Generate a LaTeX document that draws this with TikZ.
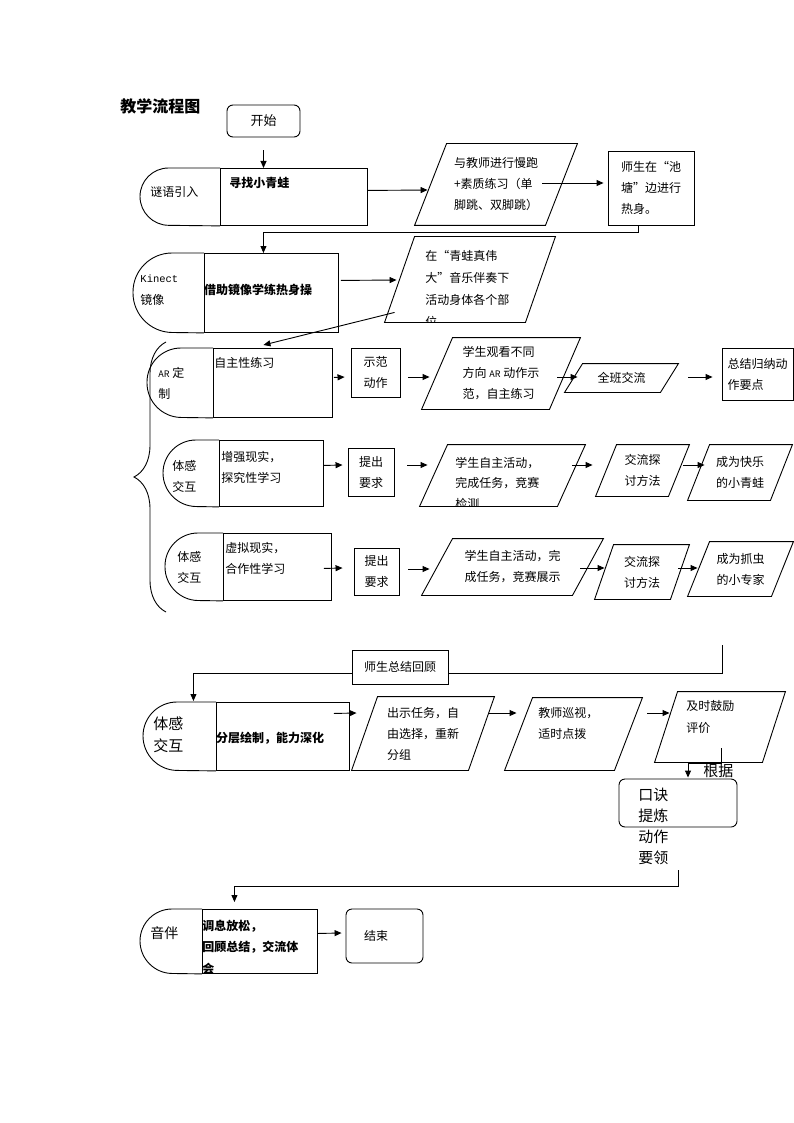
\documentclass[tikz,border=0pt]{standalone}
\usepackage{fontspec}
\setmainfont{Noto Sans CJK SC}
\setmonofont{Liberation Mono}
\usetikzlibrary{arrows.meta,decorations.pathreplacing}

\begin{document}
\begin{tikzpicture}[x=1pt,y=-1pt,line width=0.9pt,>={Triangle[length=7pt,width=6pt]},
  every node/.style={inner sep=0pt,align=left,font=\fontsize{12}{21}\selectfont},
  box/.style={draw,rectangle},
  rbox/.style={draw,rectangle,rounded corners=6pt},
  body/.style={draw,rectangle,anchor=north west},
  para/.style={append after command={\pgfextra{\draw ([xshift=#1]\tikzlastnode.north west) -- (\tikzlastnode.north east) -- ([xshift=-#1]\tikzlastnode.south east) -- (\tikzlastnode.south west) -- cycle;}}},
  bold/.style={font=\fontsize{12}{21.5}\selectfont\bfseries},
  big/.style={font=\fontsize{15}{21}\selectfont}]
            \useasboundingbox (0,0) rectangle (794,1123);

            % Define the title and the start
            \node[anchor=west,font=\fontsize{16}{16}\selectfont\bfseries] (title) at (120,106) {教学流程图};
            \node[rbox,minimum width=73,minimum height=32,font=\fontsize{13}{13}\selectfont] (start) at (263.5,121) {开始};

            % Define the first row (riddle)
            \node[body,minimum width=147,minimum height=57] (b1) at (220,168) {};
            \draw[rounded corners=28.5pt] (b1.north west) -- ++(-80,0) -- ++(0,57) -- (b1.south west);
            \node[anchor=west] (b1l) at (150,192) {谜语引入};
            \node[bold,anchor=west] (b1t) at (229,183) {寻找小青蛙};
            \node[para=32,minimum width=162,minimum height=81] (p1) at (496,184.5) {与教师进行慢跑\\+素质练习（单\\脚跳、双脚跳）};
            \node[box,minimum width=86,minimum height=74] (s1) at (651,188) {师生在“池\\塘”边进行\\热身。};

            % Define the second row (Kinect)
            \node[body,minimum width=134,minimum height=79] (b2) at (204,253) {};
            \draw[rounded corners=39pt] (b2.north west) -- ++(-71,0) -- ++(0,79) -- (b2.south west);
            \node[anchor=west,font=\fontsize{10.5}{10.5}\ttfamily] (b2k) at (140,279) {Kinect};
            \node[anchor=west] (b2l) at (140,300) {镜像};
            \node[bold] (b2t) at (258,290) {借助镜像学练热身操};
            \node[para=30,minimum width=170,minimum height=85] (p2) at (470,279.5) {};
            \begin{scope}
                \clip (p2.north west) rectangle (p2.south east);
                \node[anchor=north west,font=\fontsize{12}{22}\selectfont] (p2t) at (425,249.5) {在“青蛙真伟\\大”音乐伴奏下\\活动身体各个部\\位};
            \end{scope}

            \draw[->] ([shift={(0,13)}]start.south) -- (start.south |- b1.north);
            \draw[->] ([shift={(0,-6.5)}]b1.east) -- ([shift={(13,5.5)}]p1.west);
            \draw[->] ([shift={(-35,-1.5)}]p1.east) -- ([shift={(-4,-5)}]s1.west);
            \draw[->] ([shift={(-13,0)}]s1.south) -- ++(0,7) -| ([shift={(-8,0)}]b2.north);
            \draw[->] ([shift={(2,-12.5)}]b2.east) -- ([shift={(12,0.5)}]p2.west);

            % Define the third row (AR)
            \node[body,minimum width=119,minimum height=69] (b3) at (213,348) {};
            \draw[rounded corners=34pt] (b3.north west) -- ++(-66,0) -- ++(0,69) -- (b3.south west);
            \node[anchor=west] (b3l) at (158,383) {{\fontsize{9}{9}\selectfont AR} 定\\制};
            \node[anchor=west] (b3t) at (214,363) {自主性练习};
            \node[box,minimum width=49,minimum height=49] (demo) at (375.5,372.5) {示范\\动作};
            \node[para=31,minimum width=158,minimum height=71] (p3) at (501,373.5) {学生观看不同\\方向 {\fontsize{9}{9}\selectfont AR} 动作示\\范，自主练习};
            \node[para=18,minimum width=113,minimum height=28] (all) at (621.5,378) {全班交流};
            \node[box,minimum width=71,minimum height=52] (sum) at (757.5,374) {总结归纳动\\作要点};

            \draw[->] ([shift={(10,-10)}]p2.south west) -- ([shift={(-9.5,-3)}]b3.north);
            \draw[->] ([shift={(1,-5.5)}]b3.east) -- ([shift={(-6,4.5)}]demo.west);
            \draw[->] ([shift={(8,4.5)}]demo.east) -- ([shift={(8,3.5)}]p3.west);
            \draw[->] ([shift={(-23,3.5)}]p3.east) -- ([shift={(13,-1)}]all.west);
            \draw[->] ([shift={(10,-1)}]all.east) -- ([shift={(-9,3)}]sum.west);

            % Brace for the three rows
            \draw[decorate,decoration={brace,amplitude=32pt}] (166,612) -- (166,342);

            % Define the fourth row
            \node[body,minimum width=104,minimum height=66] (b4) at (219,440) {};
            \draw[rounded corners=33pt] (b4.north west) -- ++(-56,0) -- ++(0,66) -- (b4.south west);
            \node[anchor=west] (b4l) at (172,476.5) {体感\\交互};
            \node[anchor=west] (b4t) at (221,467.5) {增强现实，\\探究性学习};
            \node[box,minimum width=46,minimum height=48] (req1) at (371,472) {提出\\要求};
            \node[para=28,minimum width=165,minimum height=61] (p4) at (502.5,475.5) {};
            \begin{scope}
                \clip (p4.north west) rectangle (p4.south east);
                \node[anchor=north west,font=\fontsize{12}{20.5}\selectfont] (p4t) at (455,456.5) {学生自主活动，\\完成任务，竞赛\\检测};
            \end{scope}
            \node[para=21,minimum width=93,minimum height=51] (ex1) at (642.5,470.5) {交流探\\讨方法};
            \node[para=22,minimum width=104,minimum height=55] (hap) at (740,472.5) {成为快乐\\的小青蛙};

            \draw[->] ([shift={(0,-8)}]b4.east) -- ([shift={(-5,-7)}]req1.west);
            \draw[->] ([shift={(13,-7)}]req1.east) -- ([shift={(8,-10.5)}]p4.west);
            \draw[->] ([shift={(-13,-10.5)}]p4.east) -- ([shift={(-3,-5.5)}]ex1.west);
            \draw[->] ([shift={(-6,-5.5)}]ex1.east) -- ([shift={(17,-7.5)}]hap.west);

            % Define the fifth row
            \node[body,minimum width=108,minimum height=67] (b5) at (223,533) {};
            \draw[rounded corners=33pt] (b5.north west) -- ++(-58,0) -- ++(0,67) -- (b5.south west);
            \node[anchor=west] (b5l) at (177,567) {体感\\交互};
            \node[anchor=west] (b5t) at (225,558.5) {虚拟现实，\\合作性学习};
            \node[box,minimum width=45,minimum height=47] (req2) at (376.5,571.5) {提出\\要求};
            \node[para=31,minimum width=181,minimum height=56] (p5) at (512.5,567) {学生自主活动，完\\成任务，竞赛展示};
            \node[para=19,minimum width=94,minimum height=54] (ex2) at (642,572) {交流探\\讨方法};
            \node[para=22,minimum width=105,minimum height=54] (bug) at (740.5,569) {成为抓虫\\的小专家};

            \draw[->] ([shift={(-8,1.5)}]b5.east) -- ([shift={(-11,-3.5)}]req2.west);
            \draw[->] ([shift={(9,-2.5)}]req2.east) -- ([shift={(8,2)}]p5.west);
            \draw[->] ([shift={(-23,1)}]p5.east) -- ([shift={(10,-4)}]ex2.west);
            \draw[->] ([shift={(-11,-4)}]ex2.east) -- ([shift={(10,-1)}]bug.west);

            % Define the sixth row (drawing in layers)
            \coordinate (back) at (722,645);
            \node[body,minimum width=133,minimum height=68] (b6) at (216,702) {};
            \draw[->] (back) -- ++(0,28) -| ([shift={(-89.5,-1)}]b6.north);
            \node[box,fill=white,minimum width=96,minimum height=34] (rev) at (400,667) {师生总结回顾};
            \draw[rounded corners=34pt] (b6.north west) -- ++(-73,0) -- ++(0,68) -- (b6.south west);
            \node[big,anchor=west,font=\fontsize{15}{22}\selectfont] (b6l) at (153,735) {体感\\交互};
            \node[bold] (b6t) at (270,738) {分层绘制，能力深化};
            \node[para=26,minimum width=142,minimum height=73] (p6) at (423,733.5) {出示任务，自\\由选择，重新\\分组};
            \node[para=28,minimum width=137,minimum height=72] (p7) at (573.5,734) {};
            \node[anchor=west] (p7t) at (538,723.5) {教师巡视，\\适时点拨};
            \node[para=23,minimum width=130,minimum height=70] (p8) at (720,727) {};
            \node[anchor=west,font=\fontsize{12}{22}\selectfont] (p8t) at (686,717) {及时鼓励\\评价};
            \node[rbox,minimum width=118,minimum height=48] (recipe) at (678,803) {};
            \node[big,anchor=north west] (recipet) at (638,787.5) {口诀\\提炼\\动作\\要领};
            \node[big,anchor=west] (basis) at (703,771) {根据};

            \draw[->] ([shift={(-16,-23)}]b6.east) -- ([shift={(5,-20.5)}]p6.west);
            \draw[->] ([shift={(-6,-20.5)}]p6.east) -- ([shift={(12,-21)}]p7.west);
            \draw[->] ([shift={(5,-21)}]p7.east) -- ([shift={(15,-14)}]p8.west);
            \draw[->] ([shift={(1,-14)}]p8.south) -- ++(0,15) -| ([shift={(10,-1)}]recipe.north);

            % Define the last row and the end
            \node[body,minimum width=115,minimum height=64] (b7) at (202,909) {};
            \draw[->] ([shift={(0,43)}]recipe.south) -- ++(0,16) -| ([shift={(-25.5,-7)}]b7.north);
            \draw[rounded corners=32pt] (b7.north west) -- ++(-62,0) -- ++(0,64) -- (b7.south west);
            \node[anchor=west,font=\fontsize{14}{14}\selectfont] (b7l) at (150,933) {音伴};
            \begin{scope}
                \clip (b7.north west) rectangle (b7.south east);
                \node[bold,anchor=north west] (b7t) at (202,919.5) {调息放松，\\回顾总结，交流体\\会};
            \end{scope}
            \node[rbox,minimum width=77,minimum height=54,text width=41] (stop) at (384.5,936) {结束};
            \draw[->] ([shift={(0,-8)}]b7.east) -- ([shift={(-4,-3)}]stop.west);

        \end{tikzpicture}
\end{document}
